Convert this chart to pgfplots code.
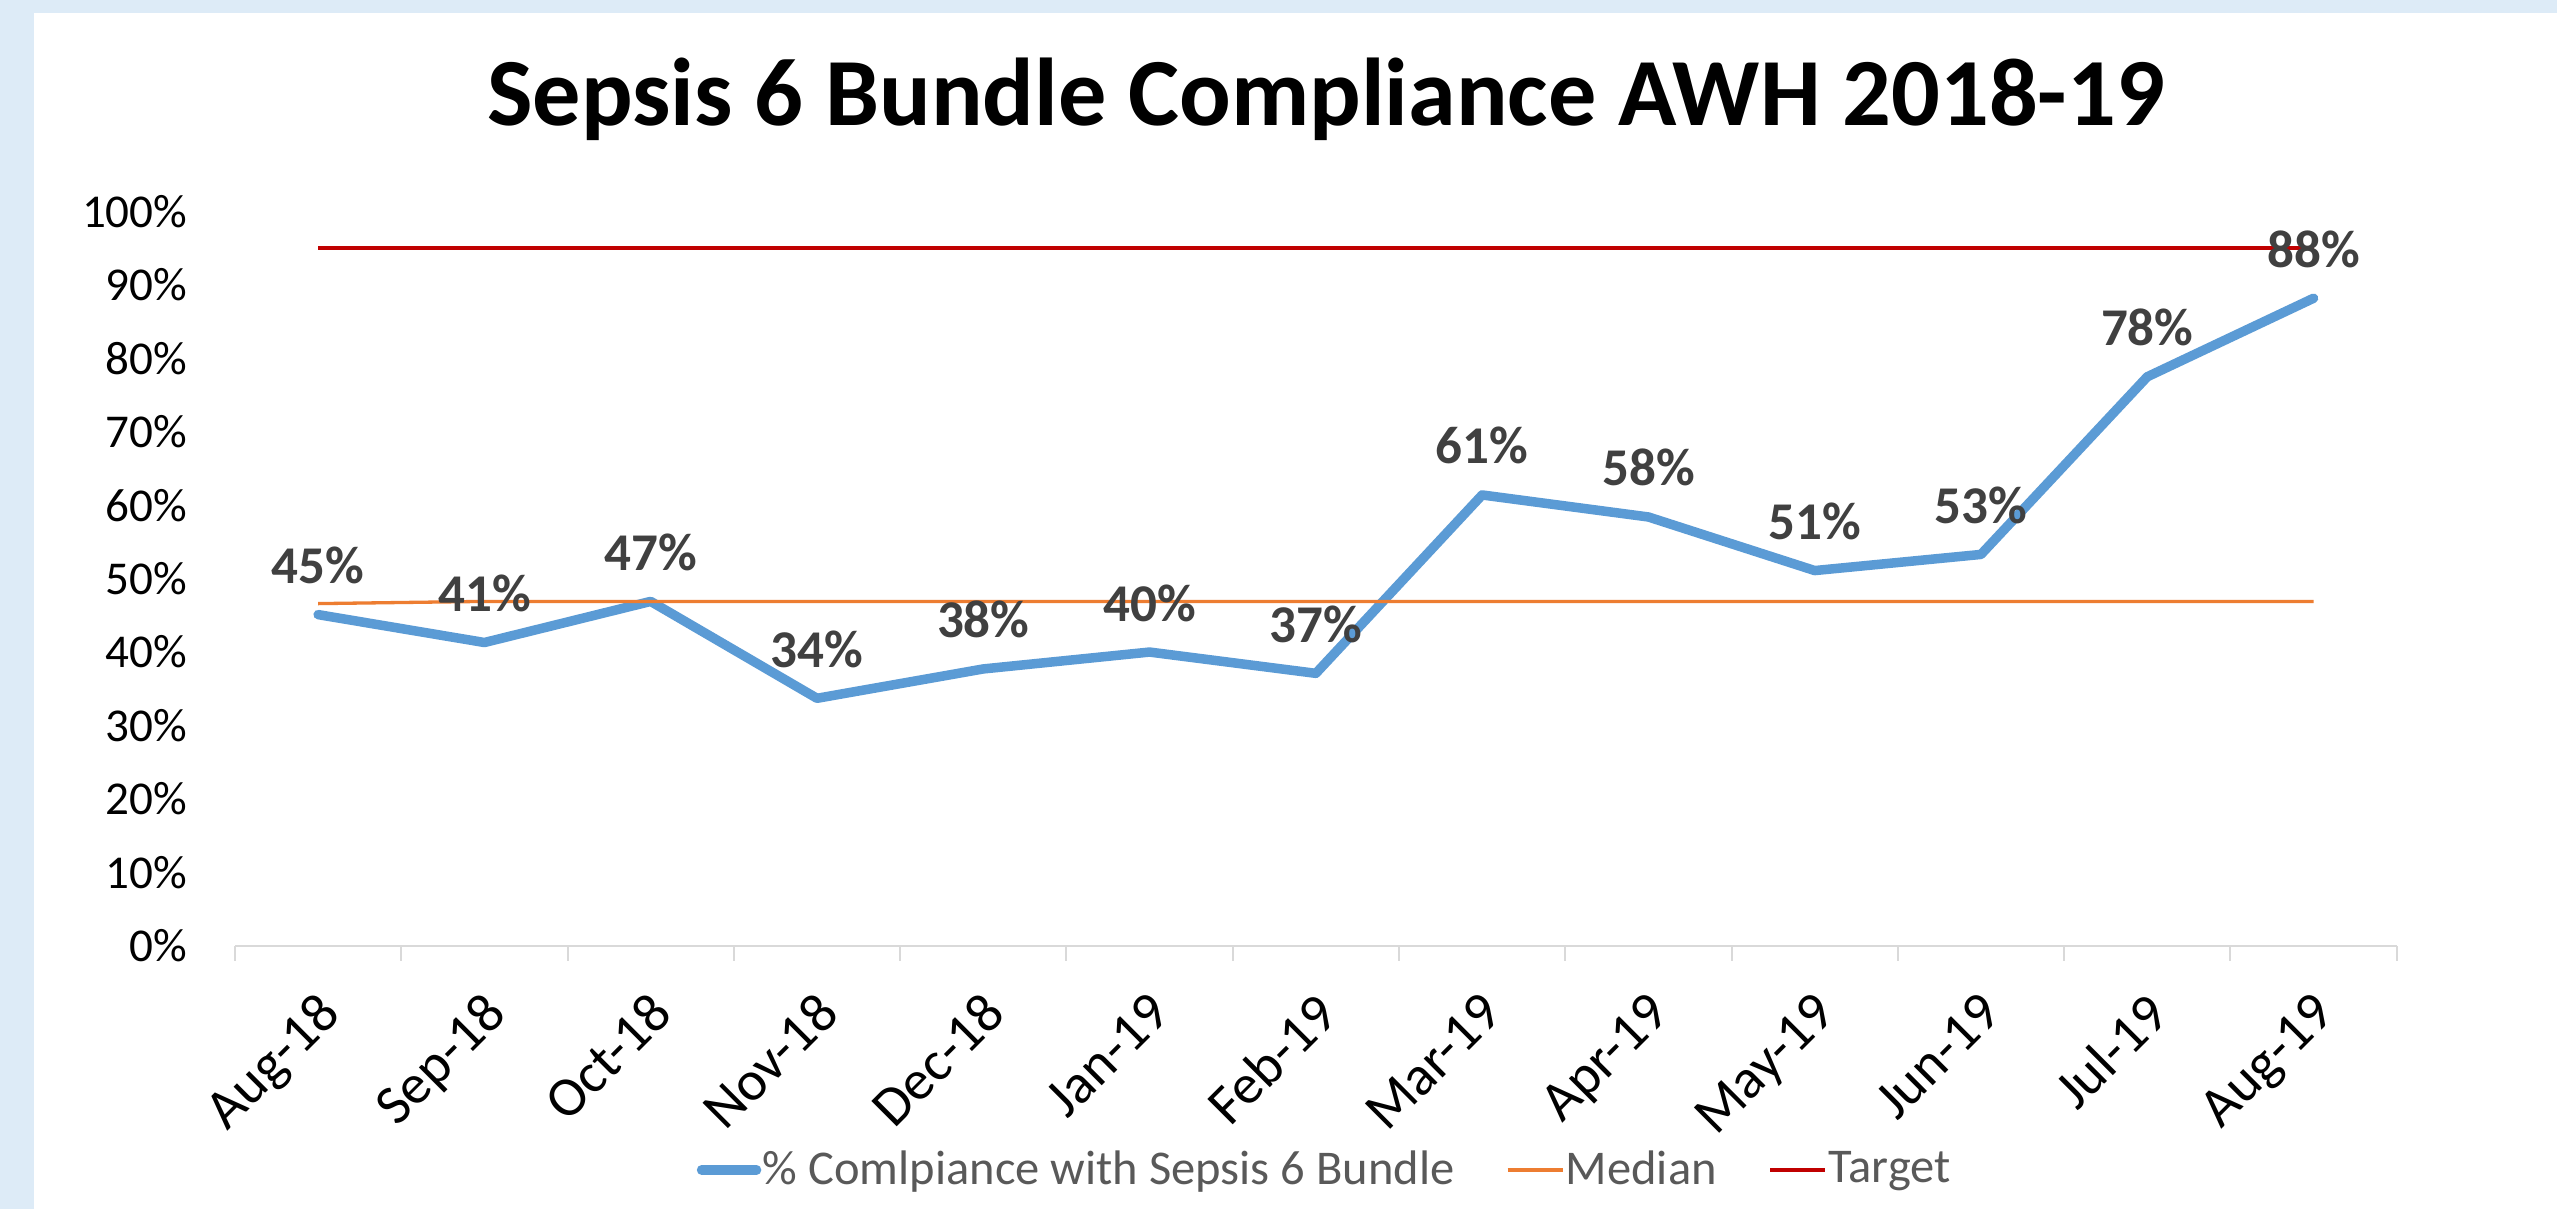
\documentclass[border=0pt]{standalone}
\usepackage{fontspec}
\setmainfont{Carlito}
\usepackage{pgfplots}
\pgfplotsset{compat=1.18}
\usepackage{pgfplotstable}
\definecolor{bgblue}{HTML}{DDEBF7}
\definecolor{serblue}{HTML}{5B9BD5}
\definecolor{serorange}{HTML}{ED7D31}
\definecolor{serred}{HTML}{C00000}
\definecolor{labgray}{HTML}{404040}
\definecolor{leggray}{HTML}{595959}
\definecolor{axgray}{HTML}{D9D9D9}

\pgfplotstableread{
x y lab
0 45.1 45
1 41.3 41
2 46.9 47
3 33.7 34
4 37.7 38
5 40.0 40
6 37.1 37
7 61.4 61
8 58.4 58
9 51.1 51
10 53.3 53
11 77.5 78
12 88.2 88
}\compliance

\pgfplotstableread{
x y
0 46.6
1 46.9
2 46.9
3 46.9
4 46.9
5 46.9
6 46.9
7 46.9
8 46.9
9 46.9
10 46.9
11 46.9
12 46.9
}\median

\pgfplotstableread{
x y
0 95
12 95
}\target

\begin{document}
\begin{tikzpicture}
\fill[bgblue] (0,0) rectangle (255.7mm,120.9mm);
\fill[white] (3.4mm,0) rectangle (255.7mm,119.6mm);
\node[anchor=base, font=\fontsize{27.4}{32}\selectfont\bfseries, text=black] at (132.6mm,108.3mm) {Sepsis 6 Bundle Compliance AWH 2018-19};
\begin{axis}[
  at={(23.5mm,26.33mm)}, anchor=south west,
  scale only axis, width=216.17mm, height=73.41mm,
  xmin=-0.5, xmax=12.5, ymin=0, ymax=100,
  enlargelimits=false, clip=false,
  axis x line*=bottom, axis y line*=left,
  y axis line style={draw=none},
  x axis line style={draw=axgray, line width=0.2mm, -},
  xtick={0,...,12},
  xticklabels={Aug-18,Sep-18,Oct-18,Nov-18,Dec-18,Jan-19,Feb-19,Mar-19,Apr-19,May-19,Jun-19,Jul-19,Aug-19},
  minor xtick={-0.5,0.5,1.5,2.5,3.5,4.5,5.5,6.5,7.5,8.5,9.5,10.5,11.5,12.5},
  major tick length=0pt,
  minor tick length=1.5mm,
  xtick align=outside,
  minor tick style={draw=axgray, line width=0.2mm},
  major tick style={draw=none},
  ytick={0,10,...,100},
  yticklabels={0\%,10\%,20\%,30\%,40\%,50\%,60\%,70\%,80\%,90\%,100\%},
  yticklabel style={font=\fontsize{13.4}{16}\selectfont, text=black, anchor=east, inner sep=0pt, xshift=-4.7mm},
  xticklabel style={font=\fontsize{15.9}{19}\selectfont, text=black, xshift=-0.3mm, yshift=-4.3mm, rotate=45, anchor=north east, inner sep=0pt},
  legend columns=-1,
  legend style={draw=none, fill=none, at={(0.504,-0.3055)}, anchor=center,
    font=\fontsize{13.8}{16}\selectfont, text=leggray,
    /tikz/every even column/.append style={column sep=5mm},
    nodes={inner sep=0.15mm}},
  legend image code/.code={\draw[#1] (0mm,0mm) -- (5.5mm,0mm);},
]
\addplot[serblue, line width=0.95mm, line cap=round, line join=round, mark=none] table[x=x,y=y] {\compliance};
\addlegendentry{\% Comlpiance with Sepsis 6 Bundle}
\addplot[serorange, line width=0.33mm, mark=none] table[x=x,y=y] {\median};
\addlegendentry{Median}
\addplot[serred, line width=0.4mm, mark=none] table[x=x,y=y] {\target};
\addlegendentry{Target}
\addplot[draw=none, mark=none, forget plot,
  nodes near coords={\pgfplotspointmeta\%},
  point meta=explicit symbolic,
  every node near coord/.append style={anchor=base, yshift=3.1mm, inner sep=0pt,
    font=\fontsize{15.1}{18}\selectfont\bfseries, text=labgray}]
  table[x=x,y=y,meta=lab] {\compliance};
\end{axis}
\end{tikzpicture}
\end{document}
